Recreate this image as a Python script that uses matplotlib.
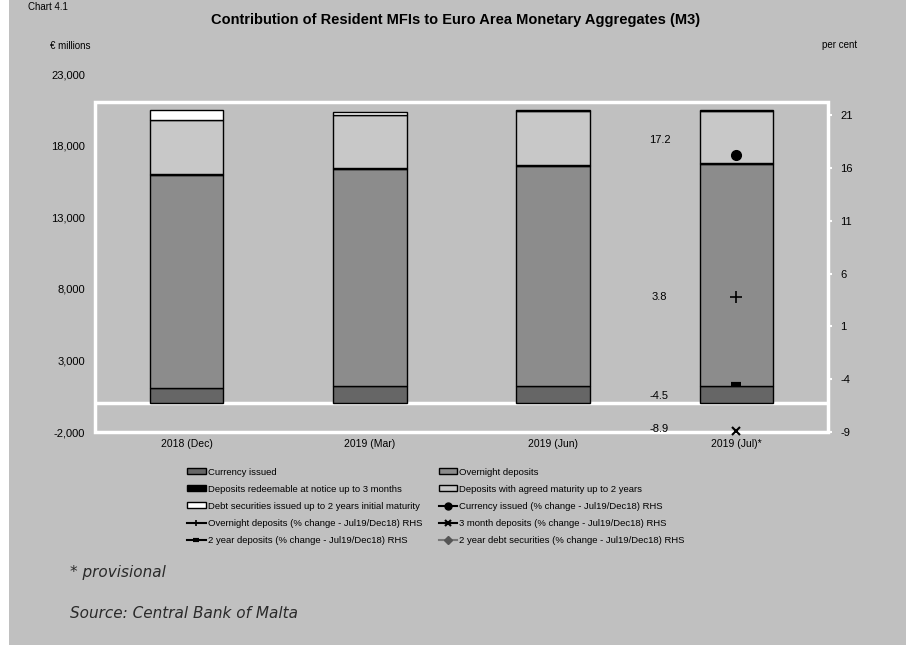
import matplotlib
matplotlib.use("Agg")
import matplotlib.pyplot as plt
from matplotlib.patches import Patch, Rectangle
from matplotlib.lines import Line2D

plt.rcParams['font.family'] = ['Liberation Sans', 'DejaVu Sans']

# data (EUR millions)
periods = ["2018 (Dec)", "2019 (Mar)", "2019 (Jun)", "2019 (Jul)*"]
currency = [1080, 1210, 1220, 1230]
overnight = [14880, 15190, 15370, 15510]
redeemable = [60, 60, 60, 60]
agreed = [3770, 3680, 3770, 3620]
debt_sec = [700, 200, 40, 40]

# % change Jul19/Dec18 (right axis), shown at the last period
pct_names = ["Currency issued", "Overnight deposits", "3 month deposits",
             "2 year deposits", "2 year debt securities"]
pct_values = [17.2, 3.8, -8.9, -4.5, None]

left_ticks = [-2000, 3000, 8000, 13000, 18000, 23000]
right_ticks = [-9, -4, 1, 6, 11, 16, 21]

bg = "#c0c0c0"
fig = plt.figure(figsize=(9.06, 6.45), dpi=100, facecolor=bg)
fig.patches.append(Rectangle((0, 0), 9 / 906, 1, transform=fig.transFigure,
                             facecolor="white", edgecolor="none", zorder=0))

ax = fig.add_axes([95 / 906, 1 - 432 / 645, 733 / 906, 358 / 645])
ax.set_facecolor("none")
ax.set_xlim(-0.5, 3.5)
ax.set_ylim(-2000, 23000)
for s in ax.spines.values():
    s.set_visible(False)

x = list(range(len(periods)))
w = 0.4
series = [(currency, "#666666", "Currency issued"),
          (overnight, "#8c8c8c", "Overnight deposits"),
          (redeemable, "black", "Deposits redeemable at notice up to 3 months"),
          (agreed, "#c8c8c8", "Deposits with agreed maturity up to 2 years"),
          (debt_sec, "white", "Debt securities issued up to 2 years initial maturity")]
bottom = [0] * len(x)
for vals, col, lab in series:
    ax.bar(x, vals, w, bottom=bottom, color=col, edgecolor="black", linewidth=1.0, zorder=3)
    bottom = [b + v for b, v in zip(bottom, vals)]

ax.axhline(0, color="white", lw=2.5, zorder=2)
ax.add_patch(Rectangle((0, 0), 1, (432 - 102) / 358, transform=ax.transAxes,
                       fill=False, edgecolor="white", lw=2.5, zorder=2, clip_on=False))

ax.set_yticks(left_ticks)
ax.set_yticklabels([f"{t:,}" for t in left_ticks], fontsize=8)
ax.tick_params(axis="y", length=0, pad=7)
ax.set_xticks(x)
ax.set_xticklabels(periods, fontsize=7.5)
ax.tick_params(axis="x", length=0, pad=5)

ax2 = ax.twinx()
ax2.set_ylim(-9, -9 + 358 / 10.56)
for s in ax2.spines.values():
    s.set_visible(False)
ax2.set_yticks(right_ticks)
ax2.set_yticklabels([str(t) for t in right_ticks], fontsize=8)
ax2.tick_params(axis="y", length=3, width=1.5, color="white", pad=6)

markers = [dict(marker="o", ms=7, color="black"),
           dict(marker="+", ms=8, mew=1.2, color="black"),
           dict(marker="x", ms=6, mew=1.5, color="black"),
           dict(marker="_", ms=7, mew=3, color="black"),
           dict(marker="D", ms=4, color="#555555")]
label_dy = [11, 0, 1.5, -8.5, 0]
for val, m, dy in zip(pct_values, markers, label_dy):
    if val is None:
        continue
    ax2.plot([x[-1]], [val], linestyle="none", zorder=5, clip_on=False, **m)
    ax2.annotate(f"{val:.1f}", (x[-1] - 0.42, val), xytext=(0, dy),
                 textcoords="offset points", ha="center", va="center", fontsize=8)

fig.text(0.503, 1 - 20 / 645, "Contribution of Resident MFIs to Euro Area Monetary Aggregates (M3)",
         ha="center", va="center", fontsize=10.5, fontweight="bold")
fig.text(50 / 906, 1 - 46 / 645, "€ millions", ha="left", va="center", fontsize=7)
fig.text(840 / 906, 1 - 45 / 645, "per cent", ha="center", va="center", fontsize=7)
fig.text(28 / 906, 1 - 2 / 645, "Chart 4.1", ha="left", va="top", fontsize=7)

# legend, row-major like the original
handles = [Patch(facecolor=c, edgecolor="black", label=l) for _, c, l in series]
handles += [Line2D([], [], color="black" if i < 4 else "#777777", lw=1.5,
                   label=f"{n} (% change - Jul19/Dec18) RHS",
                   **{k: v for k, v in m.items() if k != "color"},
                   markerfacecolor=m["color"], markeredgecolor=m["color"])
            for i, (n, m) in enumerate(zip(pct_names, markers))]
for h in handles[5:]:
    h.set_markersize(min(h.get_markersize(), 5))
order = [0, 2, 4, 6, 8, 1, 3, 5, 7, 9]
leg = fig.legend([handles[i] for i in order], [handles[i].get_label() for i in order],
                 ncol=2, loc="upper left", bbox_to_anchor=(182 / 906, 1 - 463 / 645),
                 frameon=False, fontsize=6.8, handlelength=2.0, handleheight=0.6,
                 handletextpad=0.2, columnspacing=1.75, labelspacing=0.85, borderpad=0)

fig.text(70 / 906, 1 - 573 / 645, "* provisional", ha="left", va="center",
         fontsize=11, style="italic", family="DejaVu Sans", color="#2a2a2a")
fig.text(70 / 906, 1 - 613 / 645, "Source: Central Bank of Malta", ha="left", va="center",
         fontsize=11, style="italic", family="DejaVu Sans", color="#2a2a2a")

fig.savefig("out.png", dpi=100, facecolor=bg)
